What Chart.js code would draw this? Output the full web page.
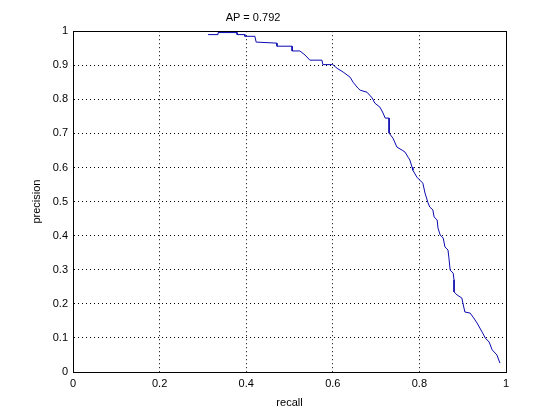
<!DOCTYPE html>
<html>
<head>
<meta charset="utf-8">
<script src="https://cdn.jsdelivr.net/npm/chart.js@4/dist/chart.umd.min.js"></script>
<style>
  html, body { margin: 0; padding: 0; background: #fff; }
  #wrap { width: 560px; height: 420px; }
</style>
</head>
<body>
<div id="wrap"><canvas id="prChart"></canvas></div>
<script>
// precision / recall curve
const recall = [0.312, 0.335, 0.335, 0.379, 0.379, 0.397, 0.397, 0.420, 0.423, 0.471, 0.471, 0.506, 0.506, 0.524, 0.536,
  0.547, 0.575, 0.577, 0.600, 0.610, 0.624, 0.640, 0.647, 0.658, 0.663, 0.679, 0.691, 0.697, 0.709, 0.716,
  0.721, 0.730, 0.730, 0.739, 0.748, 0.760, 0.767, 0.774, 0.778, 0.783, 0.785, 0.794, 0.801, 0.808, 0.813,
  0.820, 0.824, 0.831, 0.834, 0.841, 0.843, 0.848, 0.855, 0.859, 0.866, 0.868, 0.871, 0.878, 0.880, 0.880,
  0.887, 0.898, 0.900, 0.905, 0.917, 0.924, 0.933, 0.945, 0.952, 0.961, 0.968, 0.979, 0.986]
const precision = [0.990, 0.990, 0.996, 0.996, 0.990, 0.990, 0.985, 0.985, 0.968, 0.965, 0.956, 0.956, 0.942, 0.942, 0.930,
  0.915, 0.915, 0.902, 0.902, 0.891, 0.880, 0.865, 0.850, 0.833, 0.827, 0.821, 0.804, 0.789, 0.777, 0.760,
  0.745, 0.745, 0.701, 0.686, 0.660, 0.651, 0.645, 0.630, 0.622, 0.601, 0.592, 0.572, 0.563, 0.554, 0.525,
  0.496, 0.484, 0.476, 0.455, 0.446, 0.422, 0.402, 0.393, 0.367, 0.358, 0.337, 0.299, 0.290, 0.270, 0.235,
  0.226, 0.217, 0.205, 0.176, 0.173, 0.161, 0.144, 0.117, 0.100, 0.088, 0.065, 0.050, 0.026]

const xTicks = [0, 0.2, 0.4, 0.6, 0.8, 1]
const yTicks = [0, 0.1, 0.2, 0.3, 0.4, 0.5, 0.6, 0.7, 0.8, 0.9, 1]
const titleText = 'AP = 0.792'

const font = { family: '"Liberation Sans", Arial, sans-serif', size: 11, weight: 'normal' }

// matlab style box round the axes
const boxPlugin = {
    id: 'box',
    afterDraw(chart) {
        const {ctx, chartArea: a} = chart
        ctx.save()
        ctx.strokeStyle = '#000'
        ctx.lineWidth = 1
        ctx.strokeRect(Math.round(a.left) + 0.5, Math.round(a.top) + 0.5, Math.round(a.right - a.left), Math.round(a.bottom - a.top))
        ctx.restore()
    }
}

new Chart('prChart', {
    type: 'scatter',
    data: {
        datasets: [{
            data: recall.map((r, i) => ({x: r, y: precision[i]})),
            showLine: true,
            borderColor: '#0a0ab0',
            borderWidth: 1,
            pointRadius: 0,
            tension: 0
        }]
    },
    options: {
        responsive: true,
        maintainAspectRatio: false,
        animation: false,
        layout: { padding: { left: 0, right: 54, top: 0, bottom: 0 } },
        plugins: {
            legend: { display: false },
            tooltip: { enabled: false },
            title: {
                display: true,
                text: titleText,
                color: '#000',
                font: font,
                padding: { top: 11, bottom: 7 }
            }
        },
        scales: {
            x: {
                type: 'linear',
                min: 0, max: 1,
                afterBuildTicks: s => { s.ticks = xTicks.map(v => ({value: v})) },
                afterFit: s => { s.height = 48 },
                ticks: { color: '#000', font: font, padding: 5, callback: v => String(v) },
                grid: { color: '#000', drawTicks: false, lineWidth: 1 },
                border: { display: true, color: '#000', dash: [1, 3] },
                title: { display: true, text: 'recall', color: '#000', font: font, padding: { top: 0, bottom: 10 } }
            },
            y: {
                type: 'linear',
                min: 0, max: 1,
                afterBuildTicks: s => { s.ticks = yTicks.map(v => ({value: v})) },
                afterFit: s => { s.width = 73 },
                ticks: { color: '#000', font: font, padding: 5, callback: v => String(v) },
                grid: { color: '#000', drawTicks: false, lineWidth: 1 },
                border: { display: true, color: '#000', dash: [1, 3] },
                title: { display: true, text: 'precision', color: '#000', font: font, padding: { top: 30, bottom: 0 } }
            }
        }
    },
    plugins: [boxPlugin]
})
</script>
</body>
</html>
